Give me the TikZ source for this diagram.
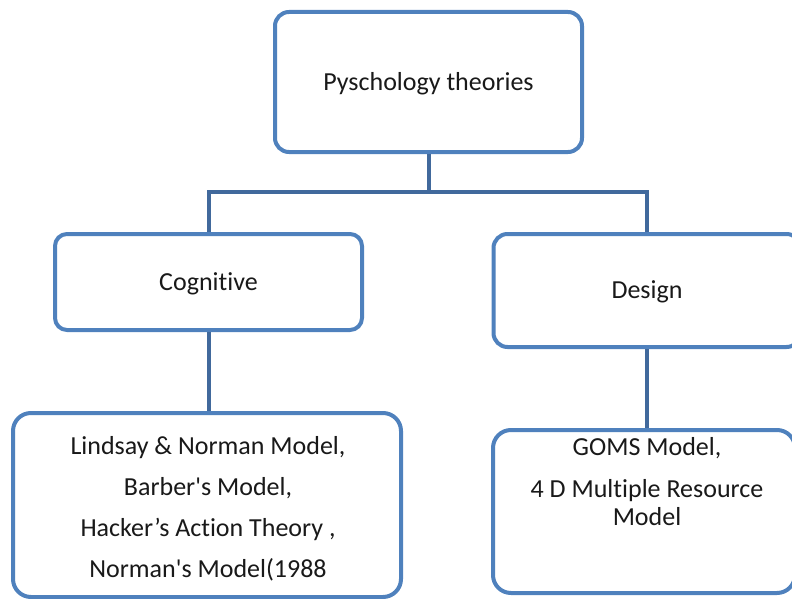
\documentclass[tikz,border=0pt]{standalone}
\usepackage{fontspec}
\setmainfont{Carlito}[Ligatures=NoCommon]
\definecolor{boxblue}{HTML}{4F81BD}
\definecolor{linkblue}{HTML}{41699C}
\begin{document}
\begin{tikzpicture}[x=1pt,y=-1pt,
  box/.style={draw=boxblue, line width=4pt, rounded corners=14pt, fill=white, inner sep=0pt},
  link/.style={draw=linkblue, line width=4pt},
  lbl/.style={font=\fontsize{26}{28}\selectfont, text=black!90, inner sep=0pt, align=center}]
\useasboundingbox (0,0) rectangle (792,599);
\clip (0,0) rectangle (792,599);
\node[box, minimum width=307pt, minimum height=140pt] (top) at (428.5,82) {};
\node[lbl] (toptext) at (428.5,84) {Pyschology theories};
\node[box, minimum width=307pt, minimum height=96pt, rounded corners=12pt] (cog) at (208.5,282) {};
\node[lbl] (cogtext) at (208.5,284) {Cognitive};
\node[box, minimum width=307pt, minimum height=113pt] (des) at (647,290.5) {};
\node[lbl] (destext) at (647,291.5) {Design};
\node[box, minimum width=388pt, minimum height=184pt, rounded corners=18pt] (bl) at (207,505) {};
\node[box, minimum width=302pt, minimum height=163pt, rounded corners=18pt] (br) at (644,511.5) {};
\node[lbl, anchor=north] (bltext) at (208,436) {Lindsay \& Norman Model,\\[13pt]Barber\textquotesingle s Model,\\[13pt]Hacker’s Action Theory ,\\[13pt]Norman\textquotesingle s Model(1988};
\node[lbl, anchor=north] (brtext) at (647,437) {GOMS Model,\\[14pt]4 D Multiple Resource\\Model};
\coordinate (j) at (428.5,192);
\draw[link] (top.south) -- (j);
\draw[link] (cog.north) |- (j) -| (des.north);
\draw[link] (cog.south) -- (bl.north -| cog.south);
\draw[link] (des.south) -- (br.north -| des.south);
\end{tikzpicture}
\end{document}
